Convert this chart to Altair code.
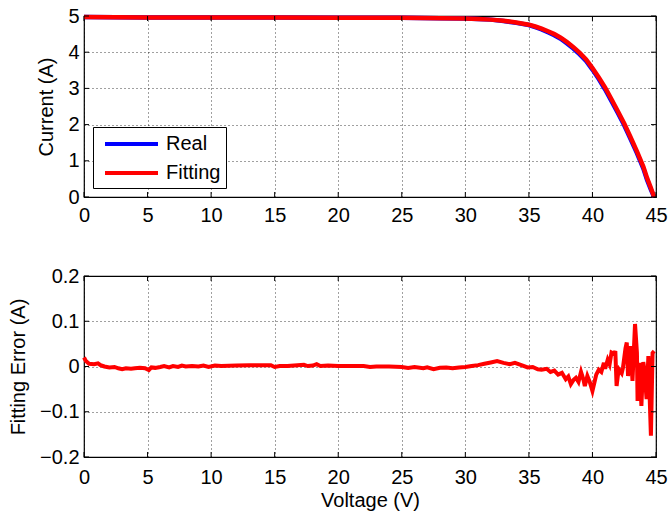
import altair as alt
import pandas as pd

# ---- top panel: I-V curve ----
v_iv = [0, 5, 10, 15, 20, 25, 28, 30, 31, 32, 33, 34, 35, 35.5, 36, 36.5, 37, 37.5, 38,
        38.5, 39, 39.5, 40, 40.5, 41, 41.5, 42, 42.5, 43, 43.5, 44, 44.3, 44.6, 44.85]
i_fit = [4.97, 4.96, 4.96, 4.96, 4.95, 4.95, 4.94, 4.93, 4.92, 4.90, 4.87, 4.82, 4.76, 4.71,
         4.65, 4.58, 4.50, 4.40, 4.28, 4.14, 3.98, 3.80, 3.56, 3.30, 3.02, 2.70, 2.37, 2.03,
         1.65, 1.26, 0.84, 0.52, 0.25, 0.0]
i_real = [4.97, 4.96, 4.96, 4.96, 4.95, 4.95, 4.94, 4.93, 4.92, 4.90, 4.86, 4.81, 4.75, 4.69,
          4.63, 4.55, 4.47, 4.37, 4.24, 4.10, 3.94, 3.76, 3.52, 3.26, 2.97, 2.65, 2.32, 1.98,
          1.60, 1.21, 0.79, 0.47, 0.20, 0.0]
series = ["Real", "Fitting"]

# ---- bottom panel: fitting error ----
v_err = [0.0, 0.15, 0.4, 0.8, 1.1, 1.3, 1.6, 2.0, 2.4, 2.7, 3.0, 3.3, 3.7, 4.0, 4.4, 4.8, 5.1,
         5.3, 5.6, 6.0, 6.3, 6.7, 7.0, 7.4, 7.7, 8.0, 8.5, 9.0, 9.4, 9.8, 10.3, 10.8, 12.0, 13.0,
         14.0, 14.7, 15.0, 15.4, 16.0, 16.8, 17.3, 17.6, 18.0, 18.3, 18.6, 19.2, 20.0, 21.0,
         22.0, 22.5, 23.0, 24.0, 25.0, 25.5, 26.0, 26.7, 27.0, 27.5, 28.0, 28.5, 29.0, 29.5,
         30.0, 30.5, 31.0, 31.5, 32.0, 32.5, 33.0, 33.5, 33.9, 34.3, 34.9, 35.3, 35.7, 36.0,
         36.4, 36.7, 37.0, 37.3, 37.6, 37.9, 38.1, 38.3, 38.5, 38.7, 38.9, 39.1, 39.3, 39.4,
         39.6, 39.8, 40.0, 40.2, 40.3, 40.5, 40.7, 40.9, 41.0, 41.2, 41.35, 41.5, 41.7, 41.8,
         41.9, 42.0, 42.1, 42.3, 42.4, 42.6, 42.7, 42.8, 42.9, 43.0, 43.15, 43.35, 43.5, 43.55,
         43.7, 43.85, 44.0, 44.07, 44.26, 44.4, 44.6, 44.73, 44.86]
e_err = [0.020, 0.012, 0.006, 0.005, 0.007, 0.003, 0.000, -0.002, -0.001, -0.004, -0.006,
         -0.004, -0.005, -0.004, -0.003, -0.004, -0.008, -0.002, -0.003, -0.001, 0.001, -0.002,
         0.001, -0.001, 0.002, 0.000, 0.001, 0.000, 0.002, -0.001, 0.002, 0.001, 0.002, 0.003,
         0.003, 0.003, -0.001, 0.001, 0.001, 0.003, 0.004, 0.001, 0.002, 0.005, 0.001, 0.002,
         0.001, 0.001, 0.001, -0.001, 0.000, 0.000, -0.001, -0.003, -0.001, -0.004, -0.002,
         -0.006, -0.003, -0.002, -0.004, -0.002, -0.001, 0.001, 0.003, 0.006, 0.009, 0.012,
         0.008, 0.005, 0.008, 0.004, -0.002, -0.001, -0.006, -0.007, -0.005, -0.012, -0.009,
         -0.018, -0.014, -0.028, -0.022, -0.039, -0.030, -0.025, -0.034, -0.012, -0.030, -0.043,
         -0.021, -0.035, -0.054, -0.030, -0.018, -0.007, -0.012, 0.008, -0.005, 0.015, 0.005,
         0.031, 0.028, 0.034, -0.043, -0.020, -0.007, -0.015, -0.003, 0.040, 0.053, -0.021,
         0.010, 0.045, -0.032, 0.094, 0.030, -0.076, 0.008, -0.087, 0.010, -0.003, -0.072,
         0.023, -0.153, 0.030, 0.034]

x_ticks = [0, 5, 10, 15, 20, 25, 30, 35, 40, 45]
y_ticks_top = [0, 1, 2, 3, 4, 5]
y_ticks_bot = [-0.2, -0.1, 0, 0.1, 0.2]

W, H = 572, 181
FONT = "Liberation Sans"
TL = 5  # inner tick length

df_real = pd.DataFrame({"V": v_iv, "I": i_real, "s": series[0]})
df_fit = pd.DataFrame({"V": v_iv, "I": i_fit, "s": series[1]})
df_err = pd.DataFrame({"V": v_err, "E": e_err})
df_xt = pd.DataFrame({"V": x_ticks})

xscale = alt.Scale(domain=[0, 45], nice=False, zero=False)


def inner_ticks(yticks, yfield, yscale, xaxis, yaxis):
    df_yt = pd.DataFrame({yfield: yticks})
    xb = alt.Chart(df_xt).mark_rule(color="#000", strokeWidth=1).encode(
        x=alt.X("V:Q", scale=xscale, axis=xaxis), y=alt.value(H), y2=alt.value(H - TL))
    xt = alt.Chart(df_xt).mark_rule(color="#000", strokeWidth=1).encode(
        x=alt.X("V:Q", scale=xscale, axis=xaxis), y=alt.value(0), y2=alt.value(TL))
    yl = alt.Chart(df_yt).mark_rule(color="#000", strokeWidth=1).encode(
        y=alt.Y(f"{yfield}:Q", scale=yscale, axis=yaxis), x=alt.value(0), x2=alt.value(TL))
    yr = alt.Chart(df_yt).mark_rule(color="#000", strokeWidth=1).encode(
        y=alt.Y(f"{yfield}:Q", scale=yscale, axis=yaxis), x=alt.value(W), x2=alt.value(W - TL))
    return [xb, xt, yl, yr]


color_scale = alt.Scale(domain=series, range=["#0000ff", "#ff0000"])
yscale_top = alt.Scale(domain=[0, 5], nice=False)
xaxis_top = alt.Axis(values=x_ticks, title=None, format="d", labelPadding=8)
yaxis_top = alt.Axis(values=y_ticks_top, title="Current (A)", format="d")
legend = alt.Legend(title=None, orient="bottom-left", offset=9)

real_line = alt.Chart(df_real).mark_line(strokeWidth=4.5).encode(
    x=alt.X("V:Q", scale=xscale, axis=xaxis_top),
    y=alt.Y("I:Q", scale=yscale_top, axis=yaxis_top),
    color=alt.Color("s:N", scale=color_scale, legend=legend),
)
fit_line = alt.Chart(df_fit).mark_line(strokeWidth=4.5).encode(
    x=alt.X("V:Q", scale=xscale, axis=xaxis_top),
    y=alt.Y("I:Q", scale=yscale_top, axis=yaxis_top),
    color=alt.Color("s:N", scale=color_scale, legend=legend),
)
top = alt.layer(
    real_line, fit_line, *inner_ticks(y_ticks_top, "I", yscale_top, xaxis_top, yaxis_top)
).properties(width=W, height=H)

yscale_bot = alt.Scale(domain=[-0.2, 0.2], nice=False)
xaxis_bot = alt.Axis(values=x_ticks, title="Voltage (V)", format="d", labelPadding=10)
yaxis_bot = alt.Axis(values=y_ticks_bot, title="Fitting Error (A)",
                     labelExpr="datum.value == 0 ? '0' : format(datum.value, '.1f')")
err_line = alt.Chart(df_err).mark_line(strokeWidth=4, color="#ff0000").encode(
    x=alt.X("V:Q", scale=xscale, axis=xaxis_bot),
    y=alt.Y("E:Q", scale=yscale_bot, axis=yaxis_bot),
)
bottom = alt.layer(
    err_line, *inner_ticks(y_ticks_bot, "E", yscale_bot, xaxis_bot, yaxis_bot)
).properties(width=W, height=H)

chart = alt.vconcat(top, bottom, spacing=39).resolve_legend(
    color="independent"
).properties(
    padding={"left": 7, "top": 5, "right": 0, "bottom": 0}
).configure_view(
    stroke="#000", strokeWidth=1.2
).configure_axis(
    labelFont=FONT, labelFontSize=20, labelColor="#000",
    titleFont=FONT, titleFontSize=20, titleFontWeight="normal", titleColor="#000",
    domain=False, ticks=False, labelPadding=5,
    grid=True, gridColor="#000", gridDash=[1, 3], gridOpacity=0.75, gridWidth=1,
    labelFlush=False, labelOverlap=False, labelBound=False,
).configure_axisX(
    titlePadding=3,
).configure_axisY(
    titlePadding=11,
).configure_legend(
    fillColor="#fff", strokeColor="#000",
    padding=5, labelFont=FONT, labelFontSize=20, labelColor="#000",
    symbolType="M-2.65,0H2.65", symbolSize=400, symbolStrokeWidth=4,
    rowPadding=7, labelOffset=22.5, symbolOffset=21.5, cornerRadius=0,
)

chart.save("out.html", embed_options={"renderer": "svg", "actions": False})
